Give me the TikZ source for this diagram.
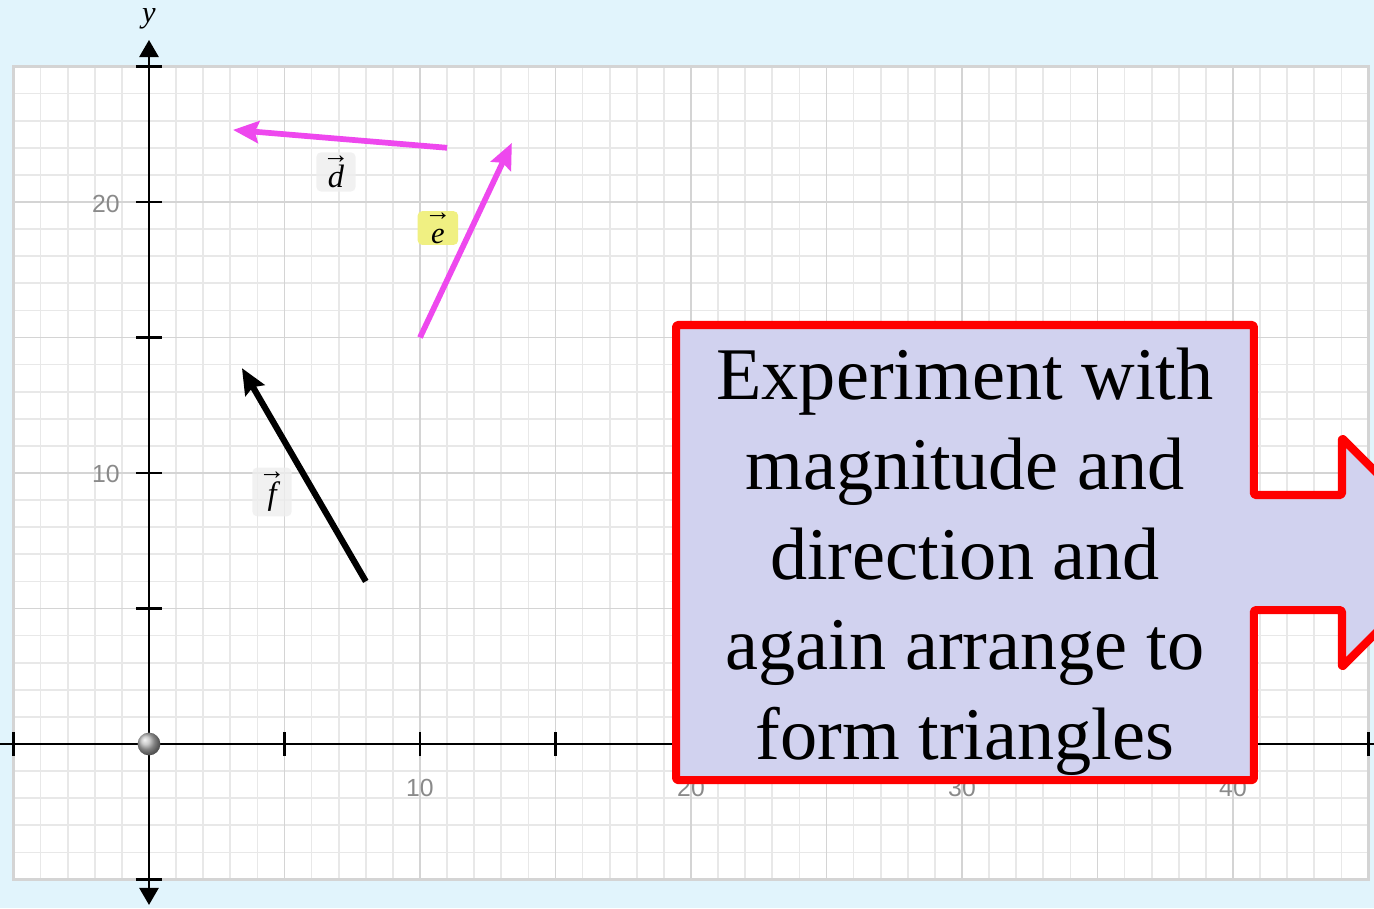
\documentclass[tikz,border=0pt]{standalone}
\usepackage{fontspec}
\setmainfont{Liberation Serif}
\newfontfamily\axisfont{Liberation Sans}
\usetikzlibrary{arrows.meta}
\definecolor{bgblue}{RGB}{225,244,252}
\definecolor{minorc}{RGB}{232,232,232}
\definecolor{majorc}{RGB}{212,212,212}
\definecolor{vecmag}{RGB}{238,72,238}
\definecolor{callfill}{RGB}{209,210,239}
\definecolor{labgray}{RGB}{138,138,138}
\definecolor{boxgray}{RGB}{238,238,238}
\definecolor{boxyellow}{RGB}{240,240,130}
\newcommand{\vlab}[1]{{\fontsize{28}{28}\selectfont →}\\[-10pt]{\itshape #1}}
\tikzset{
  minorgrid/.style={draw=minorc, line width=1.8pt},
  majorgrid/.style={draw=majorc, line width=2pt},
  axisline/.style={draw=black, line width=3pt},
  tickline/.style={draw=black, line width=2.2pt},
  numlabel/.style={font=\axisfont\fontsize{26}{30}\selectfont, text=labgray, inner sep=0pt},
  vecline/.style={line width=6pt},
  vlabel/.style={rounded corners=5pt, inner sep=0pt, align=center, minimum width=1.45cm, minimum height=1.45cm, font=\fontsize{34}{36}\selectfont},
  callout/.style={draw=red, line width=8.5pt, fill=callfill, line join=round, rounded corners=1.5pt},
}
\begin{document}
\begin{tikzpicture}[x=1cm,y=1cm]
\useasboundingbox (-5.498,-6.052) rectangle (45.203,27.454);
\clip (-5.498,-6.052) rectangle (45.203,27.454);
\fill[bgblue] (-5.498,-6.052) rectangle (45.203,27.454);
% grid paper
\fill[white] (-5,-5) rectangle (45,25);
\draw[minorgrid] (-5,-5) grid[step=1] (45,25);
\draw[majorgrid] (-5,-5) grid[step=5] (45,25);
\draw[draw=majorc, line width=2.4pt] (-5,-5) rectangle (45,25);
% axes
\coordinate (xl) at (-5.6,0);
\coordinate (xr) at (45.3,0);
\coordinate (yb) at (0,-5.94);
\coordinate (yt) at (0,25.98);
\draw[axisline] (xl) -- (xr);
\draw[axisline, {Triangle[length=18pt,width=20pt]}-{Triangle[length=18pt,width=20pt]}] (yb) -- (yt);
\foreach \x in {-5,5,10,15,20,25,30,35,40,45} \draw[tickline] (\x,-0.45) -- (\x,0.45);
\foreach \y in {-5,5,10,15,20,25} \draw[tickline] (-0.48,\y) -- (0.48,\y);
\node[font=\itshape\fontsize{32}{34}\selectfont, inner sep=0pt] (ylab) at (0,26.75) {y};
\node[numlabel] (x10) at (10,-1.62) {10};
\node[numlabel] (x20) at (20,-1.62) {20};
\node[numlabel] (x30) at (30,-1.62) {30};
\node[numlabel] (x40) at (40,-1.62) {40};
\node[numlabel] (y10) at (-1.59,9.97) {10};
\node[numlabel] (y20) at (-1.59,19.93) {20};
\shade[ball color=gray!55] (0,0) circle (0.42);
% vectors
\coordinate (d0) at (11,22);
\coordinate (d1) at (3.1,22.66);
\coordinate (e0) at (10,15);
\coordinate (e1) at (13.39,22.18);
\coordinate (f0) at (8,6);
\coordinate (f1) at (3.43,13.87);
\draw[vecline, draw=vecmag, -{Stealth[length=27pt,width=23pt,inset=4pt,fill=vecmag]}] (d0) -- (d1);
\draw[vecline, draw=vecmag, -{Stealth[length=27pt,width=23pt,inset=4pt,fill=vecmag]}] (e0) -- (e1);
\draw[vecline, draw=black, line width=6.5pt, -{Stealth[length=27pt,width=23pt,inset=4pt,fill=black]}] (f0) -- (f1);
\node[vlabel, fill=boxgray, fill opacity=0.8, text opacity=1] (dl) at (6.90,21.11) {\vlab{d}};
\node[vlabel, fill=boxyellow, minimum height=1.25cm, minimum width=1.5cm, font=\fontsize{32}{34}\selectfont] (el) at (10.66,19.04) {\vlab{e}};
\node[vlabel, fill=boxgray, fill opacity=0.8, text opacity=1, minimum height=1.8cm] (fl) at (4.54,9.30) {\vlab{f}};
% callout
\draw[callout] (19.45,15.46) -- (40.77,15.46) -- (40.77,9.19) -- (44.02,9.19) -- (44.02,11.29) -- (48.23,7.07) -- (44.02,2.84) -- (44.02,4.94) -- (40.77,4.94) -- (40.77,-1.33) -- (19.45,-1.33) -- cycle;
\node[align=center, inner sep=0pt, font=\fontsize{78}{94.5}\selectfont] (msg) at (30.11,6.73) {Experiment with\\magnitude and\\direction and\\again arrange to\\form triangles};
\end{tikzpicture}
\end{document}
